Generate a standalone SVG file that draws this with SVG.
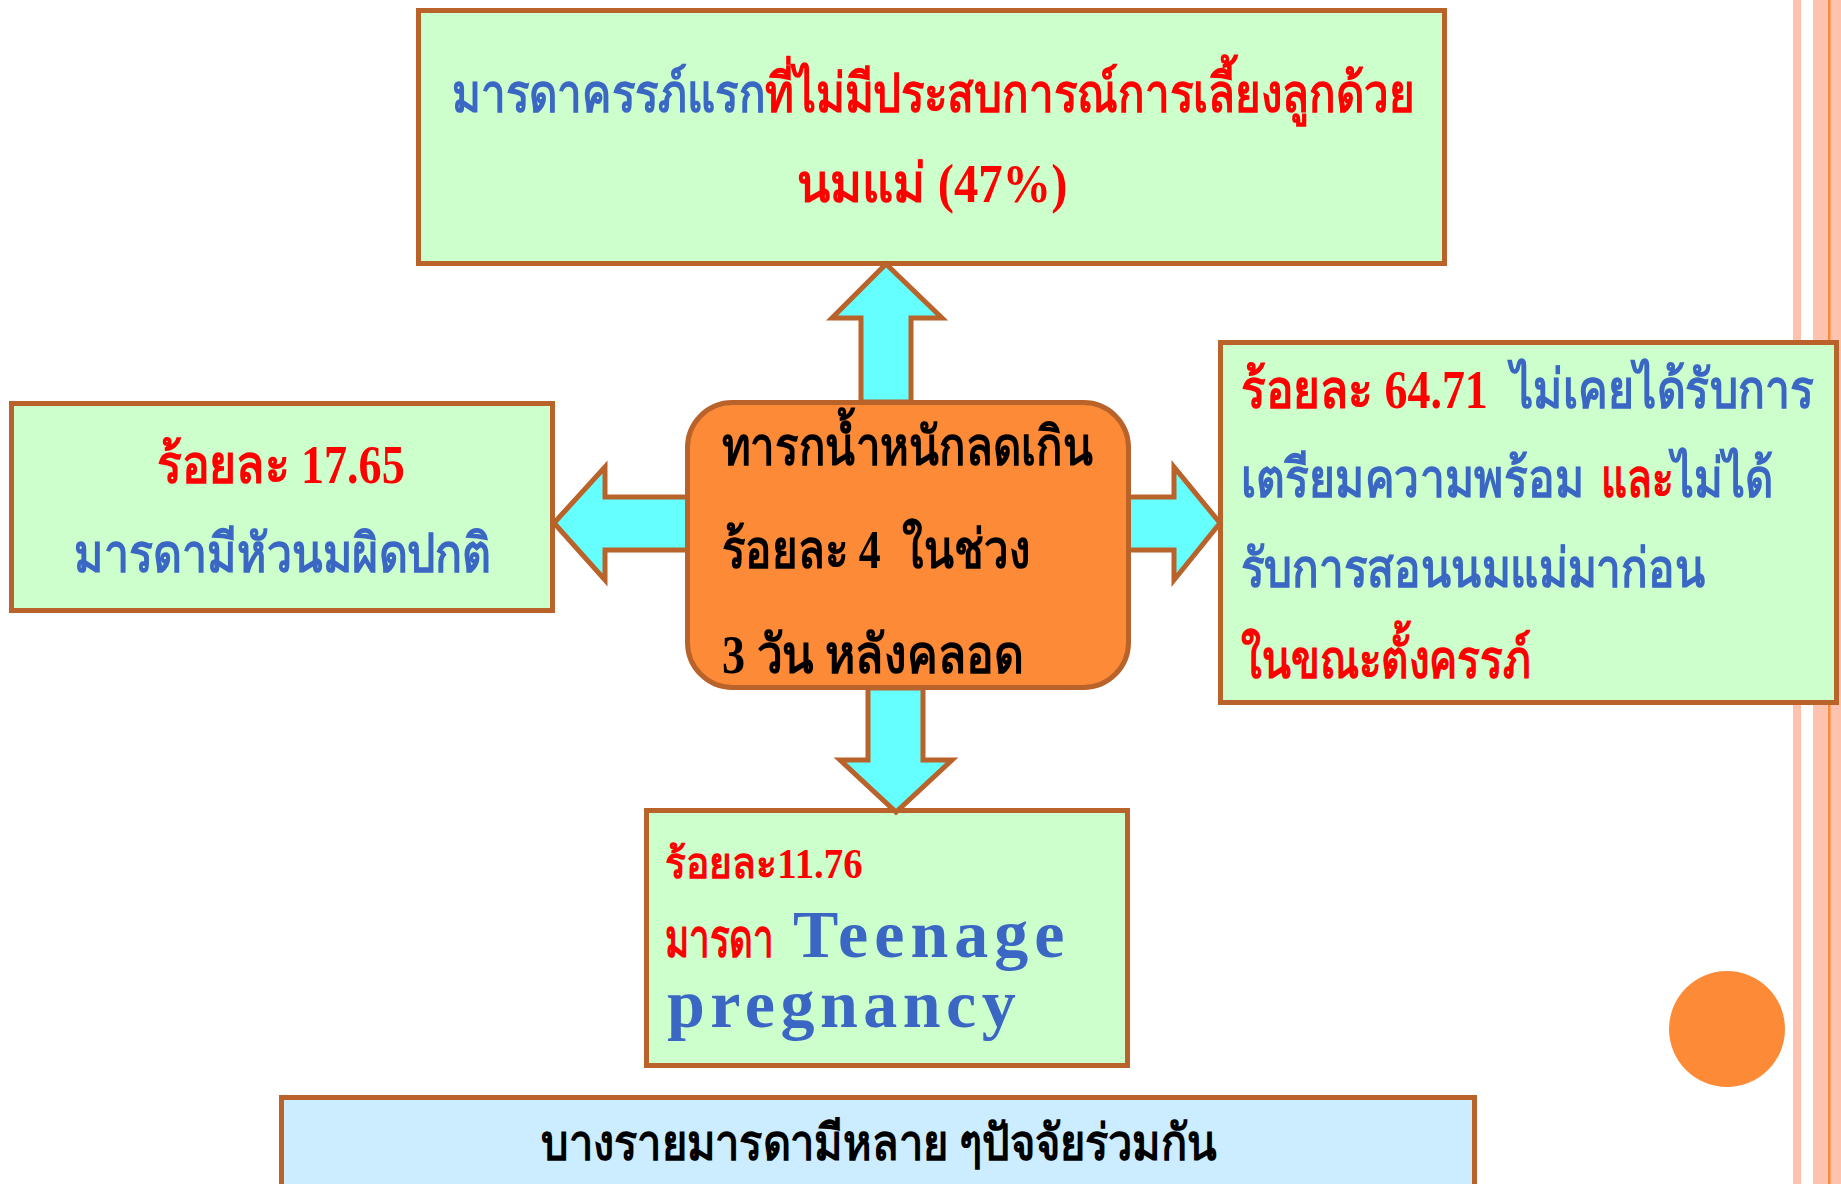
<svg xmlns="http://www.w3.org/2000/svg" width="1841" height="1184" viewBox="0 0 1841 1184">
<style>
.box{fill:#CCFFCC;stroke:#B9622A;stroke-width:5}
.arr{fill:#66FFFF;stroke:#B9622A;stroke-width:5;stroke-linejoin:miter}
.th{font-family:"Liberation Serif",serif;font-weight:bold;font-size:54px}
.b{fill:#3A66C4}
.r{fill:#FF0000}
.k{fill:#000000}
.en{font-family:"Liberation Serif",serif;font-weight:bold;font-size:68px;fill:#3A66C4}
</style>
<rect width="1841" height="1184" fill="#FFFFFF"/>
<g id="decor">
<rect x="1793" y="0" width="8" height="1184" fill="#FDC3AF"/>
<rect x="1813" y="0" width="28" height="1184" fill="#FDC3AF"/>
<rect x="1828" y="0" width="2.5" height="1184" fill="#FD8A37"/>
<circle cx="1727" cy="1029" r="58" fill="#FD8A37"/>
</g>
<g id="top">
<rect class="box" x="418.5" y="10.5" width="1026" height="253"/>
<text class="th" transform="translate(452,112) scale(0.814,1)"><tspan class="b">มารดาครรภ์แรก</tspan><tspan class="r">ที่ไม่มีประสบการณ์การเลี้ยงลูกด้วย</tspan></text>
<text class="th r" transform="translate(797,202) scale(0.9,1)">นมแม่ (47%)</text>
</g>
<g id="left">
<rect class="box" x="11.5" y="403.5" width="541" height="207"/>
<text class="th r" transform="translate(157,483) scale(0.855,1)">ร้อยละ 17.65</text>
<text class="th b" transform="translate(74,572) scale(0.827,1)">มารดามีหัวนมผิดปกติ</text>
</g>
<g id="right">
<rect class="box" x="1220.5" y="342.5" width="616" height="360"/>
<text class="th r" transform="translate(1241,408) scale(0.851,1)">ร้อยละ 64.71</text>
<text class="th b" transform="translate(1511,408) scale(0.824,1)">ไม่เคยได้รับการ</text>
<text class="th b" transform="translate(1241,497) scale(0.821,1)">เตรียมความพร้อม</text>
<text class="th r" transform="translate(1601,497) scale(0.75,1)">และ</text>
<text class="th b" transform="translate(1672,497) scale(0.81,1)">ไม่ได้</text>
<text class="th b" transform="translate(1241,587) scale(0.817,1)">รับการสอนนมแม่มาก่อน</text>
<text class="th r" transform="translate(1241,678) scale(0.784,1)">ในขณะตั้งครรภ์</text>
</g>
<g id="bottom">
<rect class="box" x="646.5" y="810.5" width="481" height="255"/>
<text class="th r" style="font-size:42px" transform="translate(665,878) scale(0.925,1)">ร้อยละ11.76</text>
<text class="th r" transform="translate(665,957) scale(0.68,1)">มารดา</text>
<text class="en" x="793" y="957" letter-spacing="6">Teenage</text>
<text class="en" x="667" y="1027" letter-spacing="5.5">pregnancy</text>
</g>
<g id="connectors">
<polygon class="arr" points="886,264 942,318 911,318 911,402 861,402 861,318 832,318"/>
<polygon class="arr" points="1128,497 1174,497 1174,467 1220,523 1174,580 1174,550 1128,550"/>
<polygon class="arr" points="688,497 605,497 605,467 554,523 605,580 605,550 688,550"/>
<polygon class="arr" points="868,688 923,688 923,760 952,760 896,812 840,760 868,760"/>
</g>
<g id="center">
<rect x="687.5" y="402.5" width="441" height="285" rx="45" ry="45" fill="#FD8A37" stroke="#B9622A" stroke-width="5"/>
<text class="th k" transform="translate(722,465) scale(0.81,1)">ทารกน้ำหนักลดเกิน</text>
<text class="th k" transform="translate(722,568) scale(0.812,1)" xml:space="preserve">ร้อยละ 4  ในช่วง</text>
<text class="th k" transform="translate(722,673) scale(0.854,1)">3 วัน หลังคลอด</text>
</g>
<g id="note">
<rect x="281.5" y="1097.5" width="1193" height="100" fill="#CCECFF" stroke="#B9622A" stroke-width="5"/>
<text class="th k" style="font-size:50px" transform="translate(541,1160) scale(0.868,1)">บางรายมารดามีหลาย ๆปัจจัยร่วมกัน</text>
</g>
</svg>
